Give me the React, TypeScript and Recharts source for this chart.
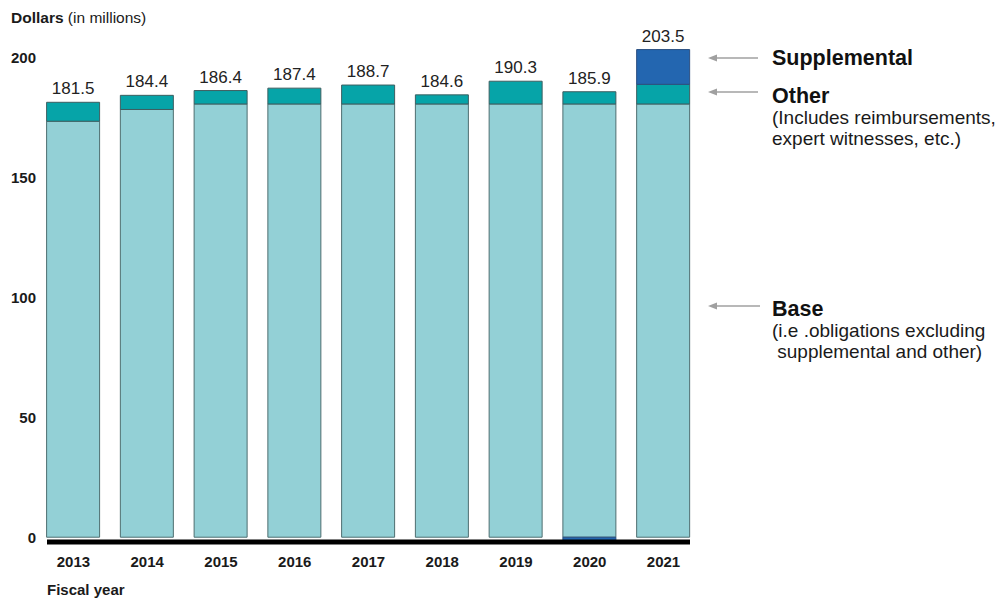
import { BarChart, Bar, XAxis, YAxis, LabelList } from 'recharts';

const years = ['2013', '2014', '2015', '2016', '2017', '2018', '2019', '2020', '2021'];
const baseValues = [173.6, 178.5, 180.8, 180.8, 180.8, 180.8, 180.8, 180.8, 180.8];
const otherValues = [7.9, 5.9, 5.6, 6.6, 7.9, 3.8, 9.5, 5.1, 8.2];
const supplementalValues = [0, 0, 0, 0, 0, 0, 0, -2.0, 14.5];
const totalLabels = ['181.5', '184.4', '186.4', '187.4', '188.7', '184.6', '190.3', '185.9', '203.5'];
const yTicks = [0, 50, 100, 150, 200];

const FONT = '"Liberation Sans", Arial, Helvetica, sans-serif';
const TEXT = '#1a1a1a';

// the total sits on top of whichever segment is the highest positive one
const data = years.map((year, i) => ({
  year,
  base: baseValues[i],
  other: otherValues[i],
  supplemental: supplementalValues[i],
  otherLabel: supplementalValues[i] > 0 ? null : totalLabels[i],
  supplementalLabel: supplementalValues[i] > 0 ? totalLabels[i] : null,
}));

function Arrow({ x1, x2, y }: { x1: number; x2: number; y: number }) {
  return (
    <g>
      <line x1={x1 + 6} y1={y} x2={x2} y2={y} stroke="#a0a0a0" strokeWidth={1.5} />
      <path d={`M${x1},${y} L${x1 + 9},${y - 3.5} L${x1 + 9},${y + 3.5} Z`} fill="#a0a0a0" />
    </g>
  );
}

const labelProps = {
  position: 'top' as const,
  offset: 8,
  fill: '#222',
  fontSize: 17,
  fontFamily: FONT,
};

export default function App() {
  return (
    <div style={{ position: 'absolute', left: 0, top: 0, width: 998, height: 602, background: '#fff' }}>
      <BarChart
        width={998}
        height={602}
        data={data}
        stackOffset="sign"
        barSize={53}
        margin={{ top: 34, right: 308, bottom: 20, left: 0 }}
      >
        <YAxis
          domain={[0, 210]}
          ticks={yTicks}
          axisLine={false}
          tickLine={false}
          width={47}
          tickMargin={5}
          tick={{ fontSize: 15, fontWeight: 700, fill: TEXT, fontFamily: FONT }}
        />
        <Bar dataKey="base" stackId="a" fill="#93d0d6" stroke="#4e6e70" strokeWidth={1} isAnimationActive={false} />
        <Bar dataKey="other" stackId="a" fill="#06a4a8" stroke="#3e5e60" strokeWidth={1} isAnimationActive={false}>
          <LabelList dataKey="otherLabel" {...labelProps} />
        </Bar>
        <Bar dataKey="supplemental" stackId="a" fill="#2366b0" stroke="#2a4f80" strokeWidth={1} isAnimationActive={false}>
          <LabelList dataKey="supplementalLabel" {...labelProps} />
        </Bar>
        <XAxis
          dataKey="year"
          axisLine={{ stroke: '#000', strokeWidth: 5 }}
          tickLine={false}
          tickMargin={8}
          height={40}
          padding={{ left: -10.4, right: -10.4 }}
          tick={{ fontSize: 15, fontWeight: 700, fill: TEXT, fontFamily: FONT }}
        />
      </BarChart>

      <svg
        width={998}
        height={602}
        style={{ position: 'absolute', left: 0, top: 0, pointerEvents: 'none' }}
        fontFamily={FONT}
      >
        <text x={11} y={23} fontSize={15.5} fill={TEXT}>
          <tspan fontWeight={700}>Dollars</tspan>
          <tspan> (in millions)</tspan>
        </text>
        <text x={47} y={595} fontSize={15} fontWeight={700} fill={TEXT}>Fiscal year</text>

        <Arrow x1={708} x2={758} y={58} />
        <Arrow x1={708} x2={758} y={92} />
        <Arrow x1={708} x2={760} y={306} />

        <text x={772} y={65} fontSize={21.5} fontWeight={700} fill="#111">Supplemental</text>
        <text x={772} y={103} fontSize={21.5} fontWeight={700} fill="#111">Other</text>
        <text x={772} y={124} fontSize={19} fill={TEXT}>(Includes reimbursements,</text>
        <text x={772} y={145} fontSize={19} fill={TEXT}>expert witnesses, etc.)</text>
        <text x={772} y={316} fontSize={21.5} fontWeight={700} fill="#111">Base</text>
        <text x={772} y={337} fontSize={19} fill={TEXT}>(i.e .obligations excluding</text>
        <text x={772} y={358} fontSize={19} fill={TEXT} xmlSpace="preserve"> supplemental and other)</text>
      </svg>
    </div>
  );
}
